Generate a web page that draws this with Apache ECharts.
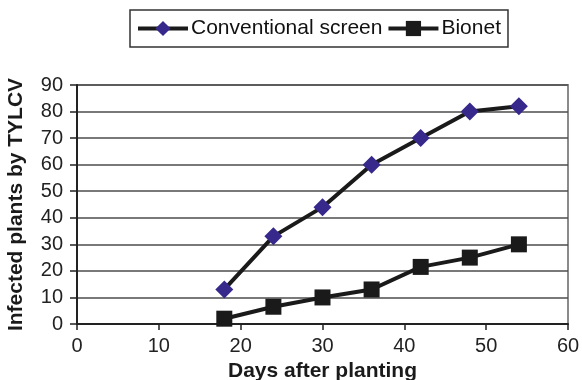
<!DOCTYPE html>
<html>
<head>
<meta charset="utf-8">
<script src="https://cdn.jsdelivr.net/npm/echarts@6/dist/echarts.min.js"></script>
<style>
html,body{margin:0;padding:0;background:#fff;}
#chart{width:582px;height:380px;}
</style>
</head>
<body>
<div id="chart"></div>
<script>
const days = [18, 24, 30, 36, 42, 48, 54];
const conventional = [13, 33, 44, 60, 70, 80, 82];
const bionet = [2, 6.5, 10, 13, 21.5, 25, 30];
const seriesNames = ['Conventional screen', 'Bionet'];
const xTitle = 'Days after planting';
const yTitle = 'Infected plants by TYLCV';

const FONT = '"Liberation Sans", Arial, sans-serif';
const chart = echarts.init(document.getElementById('chart'), null, {renderer: 'canvas'});

function pairs(xs, ys) { return xs.map((x, i) => [x, ys[i]]); }

chart.setOption({
  animation: false,
  backgroundColor: '#fff',
  textStyle: {fontFamily: FONT},
  grid: {left: 77, right: 14, top: 85, bottom: 56, show: true, borderColor: '#8a8a8a', borderWidth: 2,
         containLabel: false, outerBoundsMode: 'none'},
  legend: {
    left: 130, top: 10,
    padding: [8, 7, 8, 6],
    borderColor: '#333', borderWidth: 1.5,
    itemWidth: 50, itemHeight: 19, itemGap: 4,
    lineStyle: {width: 4, color: '#1a1a1a'},
    textStyle: {fontSize: 21, color: '#111', fontFamily: FONT, padding: [0, 0, 0, -2]},
    data: seriesNames
  },
  xAxis: {
    type: 'value', min: 0, max: 60, interval: 10,
    name: xTitle, nameLocation: 'middle', nameGap: 34,
    nameTextStyle: {fontSize: 21, fontWeight: 'bold', color: '#1a1a1a', fontFamily: FONT},
    axisLine: {show: true, onZero: false, lineStyle: {color: '#222', width: 2}},
    axisTick: {show: true, length: 6, lineStyle: {color: '#222', width: 1.5}},
    axisLabel: {fontSize: 20, color: '#222', margin: 12, fontFamily: FONT},
    splitLine: {show: false}
  },
  yAxis: {
    type: 'value', min: 0, max: 90, interval: 10,
    name: yTitle, nameLocation: 'middle', nameGap: 50, nameRotate: 90,
    nameTextStyle: {fontSize: 21, fontWeight: 'bold', color: '#1a1a1a', fontFamily: FONT},
    axisLine: {show: true, lineStyle: {color: '#222', width: 2}},
    axisTick: {show: true, length: 7, lineStyle: {color: '#222', width: 1.5}},
    axisLabel: {fontSize: 20, color: '#222', margin: 14, fontFamily: FONT},
    splitLine: {show: true, lineStyle: {color: '#4d4d4d', width: 1.6}}
  },
  series: [
    {
      name: seriesNames[0], type: 'line', data: pairs(days, conventional),
      symbol: 'diamond', symbolSize: 18,
      lineStyle: {color: '#1a1a1a', width: 4},
      itemStyle: {color: '#37288c', borderWidth: 0},
      z: 3
    },
    {
      name: seriesNames[1], type: 'line', data: pairs(days, bionet),
      symbol: 'rect', symbolSize: 16,
      lineStyle: {color: '#1a1a1a', width: 4},
      itemStyle: {color: '#1a1a1a', borderWidth: 0},
      z: 2
    }
  ]
});
</script>
</body>
</html>
